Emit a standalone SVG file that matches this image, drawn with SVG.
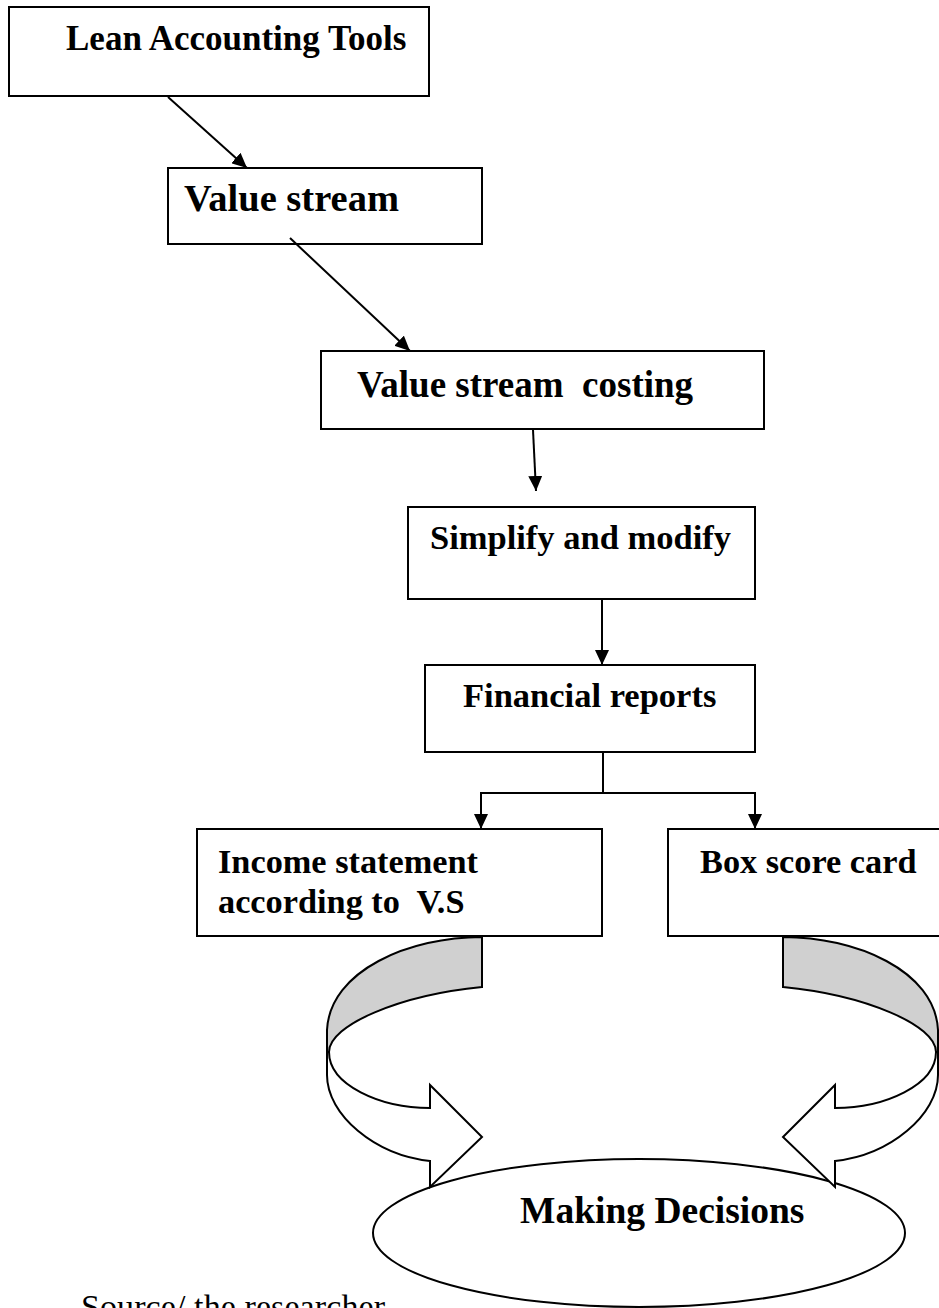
<svg xmlns="http://www.w3.org/2000/svg" xmlns:xlink="http://www.w3.org/1999/xlink" width="939" height="1308" viewBox="0 0 939 1308">
  <style>
    .box { fill: #ffffff; stroke: #000000; stroke-width: 2; }
    .lbl { font-family: "Liberation Serif", "Times New Roman", serif; font-weight: bold; fill: #000000; }
    .wire { fill: none; stroke: #000000; stroke-width: 2; }
    .back { fill: #d0d0d0; stroke: #000000; stroke-width: 2; stroke-linejoin: miter; }
    .front { fill: #ffffff; stroke: #000000; stroke-width: 2; stroke-linejoin: miter; }
    .note { font-family: "Liberation Serif", "Times New Roman", serif; fill: #000000; }
  </style>
  <defs>
    <marker id="ah" viewBox="0 0 15 14" refX="15" refY="7" markerWidth="15" markerHeight="14" markerUnits="userSpaceOnUse" orient="auto">
      <path d="M0,0 L15,7 L0,14 Z" fill="#000000"/>
    </marker>
    <!-- curved ribbon arrow: shaded back half on top, white front half ending in a head -->
    <g id="ribbon">
      <path class="front" d="M329,1052 C329,1085 380,1108 430,1108 L430,1085 L482,1137 L430,1187 L430,1161 C375,1155 327,1115 327,1075 L327,1030 Z"/>
      <path class="back" d="M482,937 C410,937 330,970 327,1030 L327,1052 L329,1052 C329,1025 400,995 482,987 Z"/>
    </g>
  </defs>

  <rect width="939" height="1308" fill="#ffffff"/>

  <g id="lean-tools">
    <rect class="box" x="9" y="7" width="420" height="89"/>
    <text class="lbl" x="66" y="50" font-size="35">Lean Accounting Tools</text>
  </g>

  <g id="value-stream">
    <rect class="box" x="168" y="168" width="314" height="76"/>
    <text class="lbl" x="184" y="211" font-size="38.5">Value stream</text>
  </g>

  <g id="value-stream-costing">
    <rect class="box" x="321" y="351" width="443" height="78"/>
    <text class="lbl" x="357" y="397" font-size="37" xml:space="preserve">Value stream  costing</text>
  </g>

  <g id="simplify-modify">
    <rect class="box" x="408" y="507" width="347" height="92"/>
    <text class="lbl" x="430" y="549" font-size="34.5">Simplify and modify</text>
  </g>

  <g id="financial-reports">
    <rect class="box" x="425" y="665" width="330" height="87"/>
    <text class="lbl" x="463" y="707" font-size="34.5">Financial reports</text>
  </g>

  <g id="income-statement">
    <rect class="box" x="197" y="829" width="405" height="107"/>
    <text class="lbl" x="218" y="873" font-size="34.3">Income statement</text>
    <text class="lbl" x="218" y="913" font-size="34.3" xml:space="preserve">according to  V.S</text>
  </g>

  <g id="box-score-card">
    <rect class="box" x="668" y="829" width="290" height="107"/>
    <text class="lbl" x="700" y="873" font-size="34.3">Box score card</text>
  </g>

  <g id="making-decisions">
    <ellipse class="box" cx="639" cy="1233" rx="266" ry="74"/>
    <text class="lbl" x="520" y="1223" font-size="37.5">Making Decisions</text>
  </g>

  <g id="connectors">
    <line class="wire" x1="168" y1="97" x2="247" y2="168" marker-end="url(#ah)"/>
    <line class="wire" x1="290" y1="238" x2="410" y2="351" marker-end="url(#ah)"/>
    <line class="wire" x1="533" y1="430" x2="536" y2="491" marker-end="url(#ah)"/>
    <line class="wire" x1="602" y1="600" x2="602" y2="665" marker-end="url(#ah)"/>
    <path class="wire" d="M603,753 V793 M480,793 H756"/>
    <line class="wire" x1="481" y1="793" x2="481" y2="829" marker-end="url(#ah)"/>
    <line class="wire" x1="755" y1="793" x2="755" y2="829" marker-end="url(#ah)"/>
    <use id="curve-left" xlink:href="#ribbon"/>
    <use id="curve-right" xlink:href="#ribbon" transform="matrix(-1 0 0 1 1265 0)"/>
  </g>

  <text class="note" x="81" y="1318" font-size="34" textLength="304">Source/ the researcher</text>
</svg>
